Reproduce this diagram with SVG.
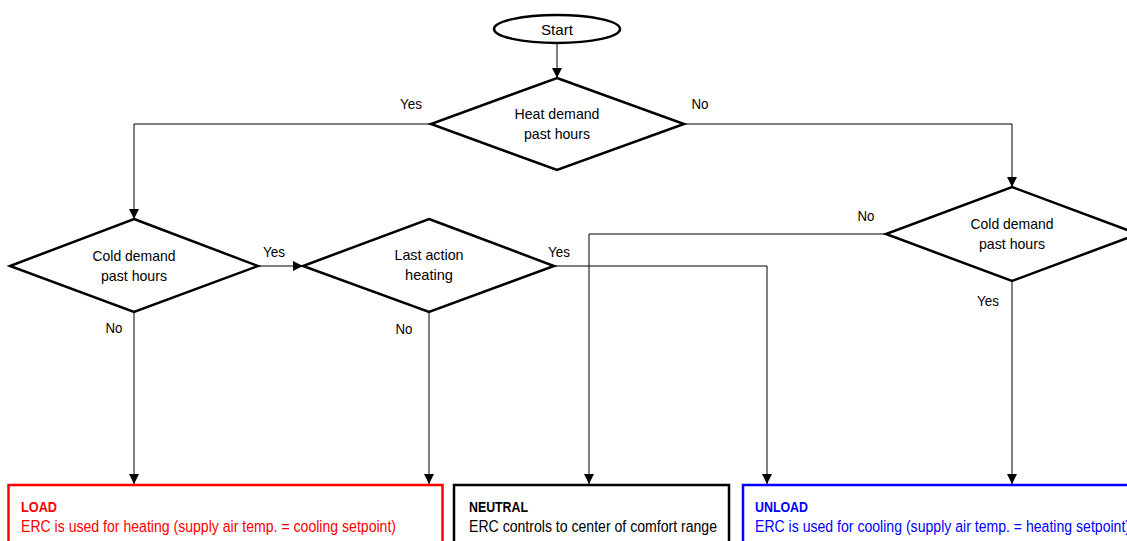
<svg xmlns="http://www.w3.org/2000/svg" width="1127" height="541" viewBox="0 0 1127 541">
  <style>
    text { font-family: "Liberation Sans", Arial, sans-serif; font-size: 15px; fill: #000; }
    .c { text-anchor: middle; }
    .shape { fill: #fff; stroke: #000; stroke-width: 2.5; }
    .conn { fill: none; stroke: #000; stroke-width: 1; }
    .box { fill: #fff; stroke-width: 2.5; }
    .hd { font-weight: bold; font-size: 15px; }
    .bt { font-size: 16px; }
  </style>
  <defs>
    <marker id="arrow" viewBox="0 0 10 10" refX="10" refY="5" markerWidth="10" markerHeight="10" markerUnits="userSpaceOnUse" orient="auto">
      <path d="M0,0 L10,5 L0,10 Z" fill="#000"/>
    </marker>
  </defs>
  <rect width="1127" height="541" fill="#fff"/>

  <!-- connectors -->
  <g id="connectors">
    <line class="conn" x1="557" y1="43" x2="557" y2="78" marker-end="url(#arrow)"/>
    <polyline class="conn" points="431,124 134,124 134,219" marker-end="url(#arrow)"/>
    <polyline class="conn" points="684,124 1012,124 1012,187" marker-end="url(#arrow)"/>
    <line class="conn" x1="258" y1="266" x2="303" y2="266" marker-end="url(#arrow)"/>
    <line class="conn" x1="134" y1="312" x2="134" y2="484" marker-end="url(#arrow)"/>
    <line class="conn" x1="429" y1="312" x2="429" y2="484" marker-end="url(#arrow)"/>
    <polyline class="conn" points="554,266 767,266 767,484" marker-end="url(#arrow)"/>
    <polyline class="conn" points="886,234 589,234 589,484" marker-end="url(#arrow)"/>
    <line class="conn" x1="1012" y1="281" x2="1012" y2="484" marker-end="url(#arrow)"/>
    <text x="411" y="109" class="c" textLength="22" lengthAdjust="spacingAndGlyphs">Yes</text>
    <text x="700" y="109" class="c" textLength="17" lengthAdjust="spacingAndGlyphs">No</text>
    <text x="274" y="257" class="c" textLength="22" lengthAdjust="spacingAndGlyphs">Yes</text>
    <text x="559" y="257" class="c" textLength="22" lengthAdjust="spacingAndGlyphs">Yes</text>
    <text x="866" y="221" class="c" textLength="17" lengthAdjust="spacingAndGlyphs">No</text>
    <text x="114" y="333" class="c" textLength="17" lengthAdjust="spacingAndGlyphs">No</text>
    <text x="404" y="334" class="c" textLength="17" lengthAdjust="spacingAndGlyphs">No</text>
    <text x="988" y="306" class="c" textLength="22" lengthAdjust="spacingAndGlyphs">Yes</text>
  </g>

  <!-- start terminal -->
  <g id="start">
    <ellipse class="shape" cx="557" cy="29" rx="63" ry="14"/>
    <text x="557" y="35" class="c" textLength="32" lengthAdjust="spacingAndGlyphs">Start</text>
  </g>

  <!-- decisions -->
  <g id="heat-demand">
    <polygon class="shape" points="557,78 684,124 557,170 431,124"/>
    <text x="557" y="119" class="c" textLength="85" lengthAdjust="spacingAndGlyphs">Heat demand</text>
    <text x="557" y="139" class="c" textLength="66" lengthAdjust="spacingAndGlyphs">past hours</text>
  </g>

  <g id="cold-demand-left">
    <polygon class="shape" points="134,219 258,266 134,312 10,266"/>
    <text x="134" y="261" class="c" textLength="83" lengthAdjust="spacingAndGlyphs">Cold demand</text>
    <text x="134" y="281" class="c" textLength="66" lengthAdjust="spacingAndGlyphs">past hours</text>
  </g>

  <g id="last-action">
    <polygon class="shape" points="429,219 554,266 429,312 303,266"/>
    <text x="429" y="260" class="c" textLength="69" lengthAdjust="spacingAndGlyphs">Last action</text>
    <text x="429" y="280" class="c" textLength="48" lengthAdjust="spacingAndGlyphs">heating</text>
  </g>

  <g id="cold-demand-right">
    <polygon class="shape" points="1012,187 1138,234 1012,281 886,234"/>
    <text x="1012" y="229" class="c" textLength="83" lengthAdjust="spacingAndGlyphs">Cold demand</text>
    <text x="1012" y="249" class="c" textLength="66" lengthAdjust="spacingAndGlyphs">past hours</text>
  </g>

  <!-- outcomes -->
  <g id="load">
    <rect class="box" x="8.5" y="485" width="434" height="80" stroke="#ff0000"/>
    <text x="21" y="512" class="hd" fill="#ff0000" style="fill:#ff0000" textLength="36" lengthAdjust="spacingAndGlyphs">LOAD</text>
    <text x="21" y="532" class="bt" style="fill:#ff0000" textLength="375" lengthAdjust="spacingAndGlyphs">ERC is used for heating (supply air temp. = cooling setpoint)</text>
  </g>

  <g id="neutral">
    <rect class="box" x="454" y="485" width="275" height="80" stroke="#000"/>
    <text x="469" y="512" class="hd" textLength="59" lengthAdjust="spacingAndGlyphs">NEUTRAL</text>
    <text x="469" y="532" class="bt" textLength="248" lengthAdjust="spacingAndGlyphs">ERC controls to center of comfort range</text>
  </g>

  <g id="unload">
    <rect class="box" x="743" y="485" width="420" height="80" stroke="#0000ff"/>
    <text x="755" y="512" class="hd" style="fill:#0000ff" textLength="53" lengthAdjust="spacingAndGlyphs">UNLOAD</text>
    <text x="755" y="532" class="bt" style="fill:#0000ff" textLength="375" lengthAdjust="spacingAndGlyphs">ERC is used for cooling (supply air temp. = heating setpoint)</text>
  </g>
</svg>
